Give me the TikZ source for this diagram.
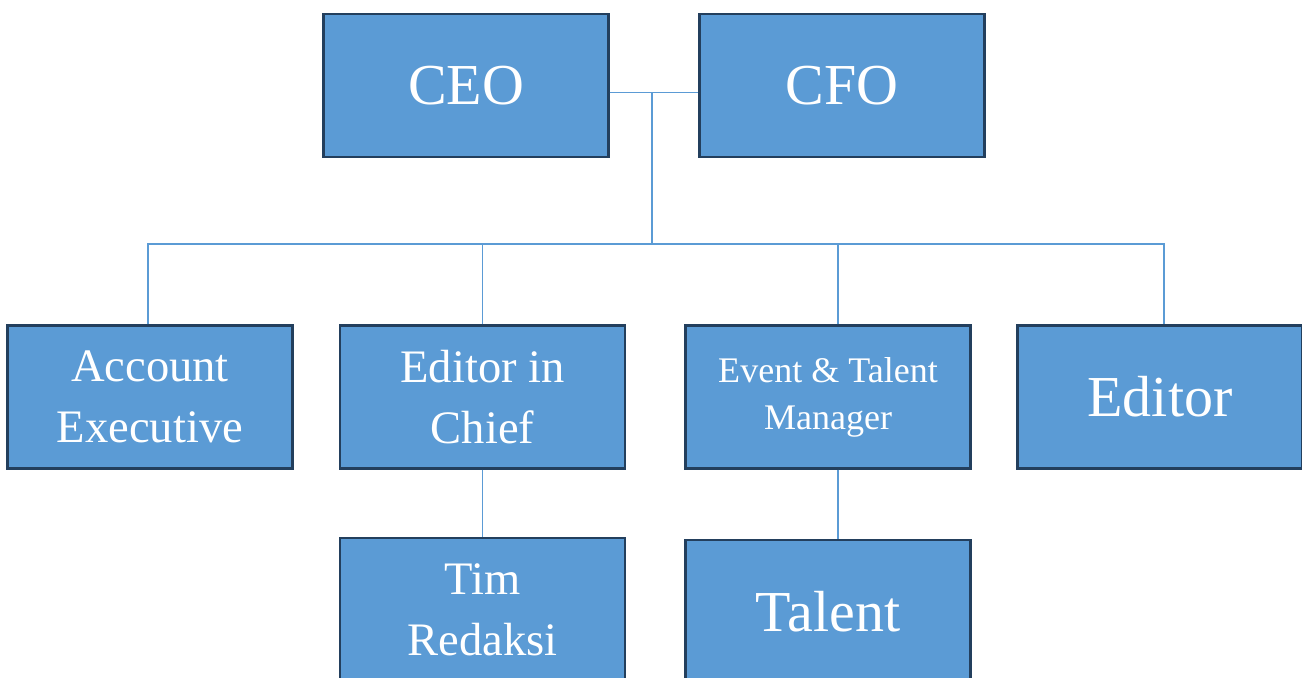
\documentclass[tikz,border=0pt]{standalone}
\usepackage{fontspec}
\setmainfont{Liberation Serif}
\usetikzlibrary{positioning}
\definecolor{boxfill}{HTML}{5B9BD5}
\definecolor{boxline}{HTML}{233F5D}
\tikzset{
  role/.style={draw=boxline, line width=1.2pt, fill=boxfill, text=white,
    minimum width=5.7cm, minimum height=2.86cm, align=center, inner sep=0pt},
  big/.style={font=\fontsize{33}{40}\selectfont},
  mid/.style={font=\fontsize{26.5}{34.5}\selectfont},
  small/.style={font=\fontsize{20.5}{26.7}\selectfont},
  link/.style={draw=boxfill, line width=0.7pt}
}
\begin{document}
\begin{tikzpicture}[x=0.02cm,y=-0.02cm]
\fill[white] (0,0) rectangle (1302,677);
\useasboundingbox (0,0) rectangle (1302,677);
% top
\node [role,big] (ceo) at (466,85.5) {CEO};
\node [role,big] (cfo) at (842,85.5) {CFO};
% second row
\node [role,mid] (ae) at (150,397) {Account\\Executive};
\node [role,mid] (eic) at (482.5,397) {Editor in\\Chief};
\node [role,small] (etm) at (828,397) {Event \& Talent\\Manager};
\node [role,big] (ed) at (1160,397) {Editor};
% third row
\node [role,mid] (tim) at (482.5,609.5) {Tim\\Redaksi};
\node [role,big] (tal) at (828,611.5) {Talent};
% connectors
\coordinate (hub) at (652,92);
\coordinate (bus) at (652,244);
\draw [link] ([yshift=-0.14cm]ceo.east) -- ([yshift=-0.14cm]cfo.west);
\draw [link] (hub) -- (bus);
\draw [link] ([xshift=-0.04cm]ae.north) |- (bus) -| ([xshift=0.08cm]ed.north);
\draw [link] (eic.north) -- (eic.north |- bus);
\draw [link] ([xshift=0.2cm]etm.north) -- ([xshift=0.2cm]etm.north |- bus);
\draw [link] (eic.south) -- (tim.north);
\draw [link] ([xshift=0.2cm]etm.south) -- ([xshift=0.2cm]tal.north);
\end{tikzpicture}
\end{document}
